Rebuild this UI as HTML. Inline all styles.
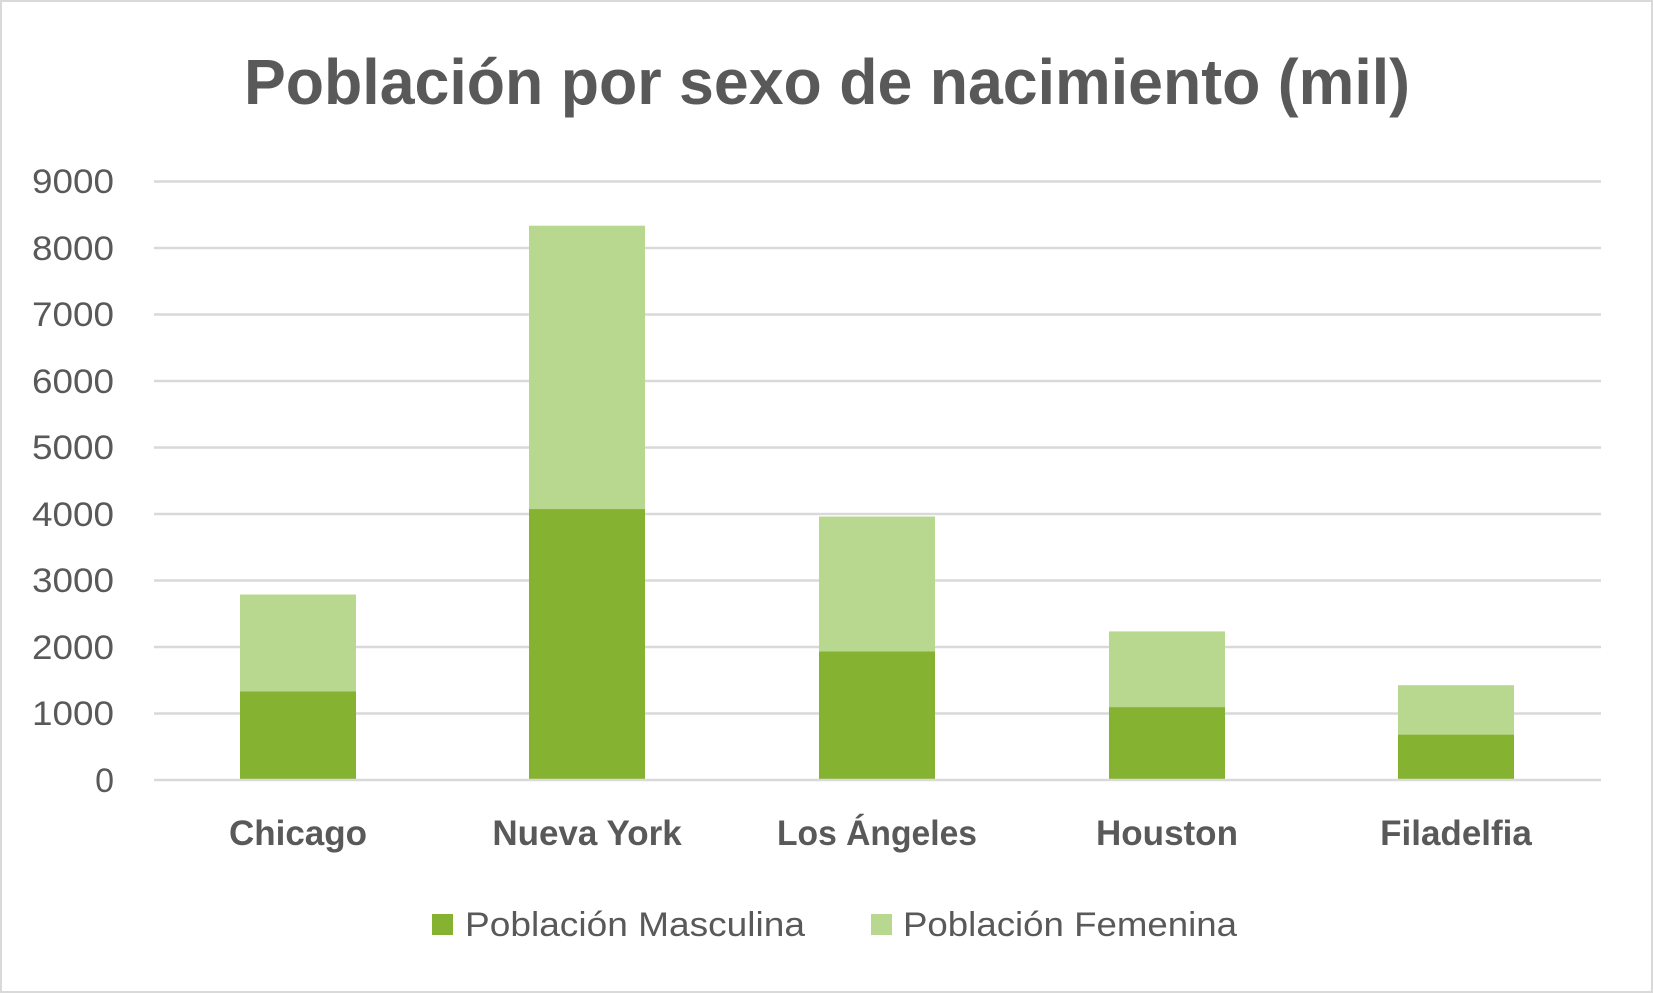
<!DOCTYPE html>
<html><head><meta charset="utf-8"><style>
html,body{margin:0;padding:0;background:#fff;}
svg{display:block;}
text{font-family:"Liberation Sans",sans-serif;fill:#595959;}
</style></head><body>
<svg width="1653" height="993" viewBox="0 0 1653 993">
<rect x="1" y="1" width="1651" height="991" fill="#fff" stroke="#d9d9d9" stroke-width="2"/>
<text x="827" y="104" text-anchor="middle" font-size="64" font-weight="bold" textLength="1166" lengthAdjust="spacingAndGlyphs">Población por sexo de nacimiento (mil)</text>
<g stroke="#d9d9d9" stroke-width="2.5">
<line x1="154" x2="1601" y1="181.5" y2="181.5"/>
<line x1="154" x2="1601" y1="248" y2="248"/>
<line x1="154" x2="1601" y1="314.5" y2="314.5"/>
<line x1="154" x2="1601" y1="381" y2="381"/>
<line x1="154" x2="1601" y1="447.5" y2="447.5"/>
<line x1="154" x2="1601" y1="514" y2="514"/>
<line x1="154" x2="1601" y1="580.5" y2="580.5"/>
<line x1="154" x2="1601" y1="647" y2="647"/>
<line x1="154" x2="1601" y1="713.5" y2="713.5"/>
</g>
<g font-size="34" text-anchor="end">
<text x="114" y="193" textLength="82" lengthAdjust="spacingAndGlyphs">9000</text><text x="114" y="260" textLength="82" lengthAdjust="spacingAndGlyphs">8000</text><text x="114" y="326" textLength="82" lengthAdjust="spacingAndGlyphs">7000</text>
<text x="114" y="393" textLength="82" lengthAdjust="spacingAndGlyphs">6000</text><text x="114" y="459" textLength="82" lengthAdjust="spacingAndGlyphs">5000</text><text x="114" y="526" textLength="82" lengthAdjust="spacingAndGlyphs">4000</text>
<text x="114" y="592" textLength="82" lengthAdjust="spacingAndGlyphs">3000</text><text x="114" y="659" textLength="82" lengthAdjust="spacingAndGlyphs">2000</text><text x="114" y="725" textLength="82" lengthAdjust="spacingAndGlyphs">1000</text>
<text x="114" y="792">0</text>
</g>
<g fill="#b8d890">
<rect x="240" y="594.5" width="116" height="185.5"/>
<rect x="529" y="225.7" width="116" height="554.3"/>
<rect x="819" y="516.5" width="116" height="263.5"/>
<rect x="1109" y="631.4" width="116" height="148.6"/>
<rect x="1398" y="685.2" width="116" height="94.8"/>
</g>
<g fill="#86b232">
<rect x="240" y="691.5" width="116" height="88.5"/>
<rect x="529" y="509.1" width="116" height="270.9"/>
<rect x="819" y="651.5" width="116" height="128.5"/>
<rect x="1109" y="707.2" width="116" height="72.8"/>
<rect x="1398" y="734.7" width="116" height="45.3"/>
</g>
<line x1="154" x2="1601" y1="780" y2="780" stroke="#d9d9d9" stroke-width="2.5"/>
<g font-size="35" font-weight="bold" text-anchor="middle">
<text x="298" y="845">Chicago</text>
<text x="587" y="845">Nueva York</text>
<text x="877" y="845" textLength="200" lengthAdjust="spacingAndGlyphs">Los Ángeles</text>
<text x="1167" y="845">Houston</text>
<text x="1456" y="845">Filadelfia</text>
</g>
<rect x="432" y="914" width="21" height="21" fill="#86b232"/>
<text x="465" y="936" font-size="34" textLength="340" lengthAdjust="spacingAndGlyphs">Población Masculina</text>
<rect x="871" y="914" width="21" height="21" fill="#b8d890"/>
<text x="903" y="936" font-size="34" textLength="334" lengthAdjust="spacingAndGlyphs">Población Femenina</text>
</svg>
</body></html>
